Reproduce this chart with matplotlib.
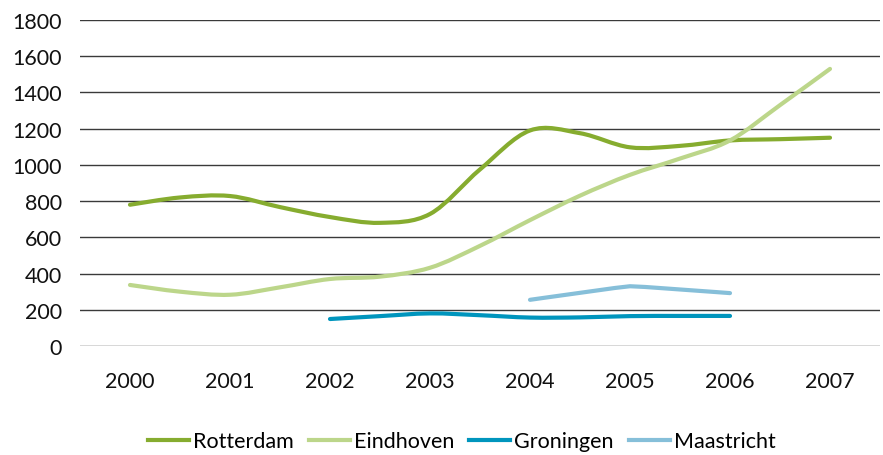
import numpy as np
import matplotlib
matplotlib.use("Agg")
from matplotlib import pyplot as plt
from matplotlib.path import Path
from matplotlib.patches import PathPatch
from matplotlib.lines import Line2D

plt.rcParams['font.family'] = ['Lato', 'DejaVu Sans']

# data, half-year steps (0 = 2000, 7 = 2007)
years = ['2000', '2001', '2002', '2003', '2004', '2005', '2006', '2007']

rotterdam_x = [0, 0.5, 1, 1.5, 2, 2.5, 3, 3.5, 4, 4.5, 5, 5.5, 6, 6.5, 7]
rotterdam = [780, 820, 828, 767, 712, 680, 729, 975, 1190, 1175, 1097, 1105, 1135, 1142, 1150]

eindhoven_x = [0, 0.5, 1, 1.5, 2, 2.5, 3, 3.5, 4, 4.5, 5, 5.5, 6, 6.5, 7]
eindhoven = [337, 300, 283, 324, 370, 383, 432, 553, 695, 830, 945, 1035, 1135, 1330, 1530]

groningen_x = [2, 2.5, 3, 3.5, 4, 4.5, 5, 5.5, 6]
groningen = [149, 165, 180, 170, 157, 158, 165, 166, 166]

maastricht_x = [4, 5, 6]
maastricht = [255, 330, 292]

names = ['Rotterdam', 'Eindhoven', 'Groningen', 'Maastricht']
colors = ['#86ac2f', '#bcd68a', '#0095bd', '#86bfd9']


def smooth_path(xs, ys, t=1/6):
    # bezier smoothing like the spreadsheet "smoothed line"
    pts = np.column_stack([xs, ys]).astype(float)
    verts = [pts[0]]
    codes = [Path.MOVETO]
    n = len(pts)
    for i in range(n - 1):
        p0 = pts[i - 1] if i > 0 else pts[i]
        p1 = pts[i]
        p2 = pts[i + 1]
        p3 = pts[i + 2] if i + 2 < n else pts[i + 1]
        c1 = p1 + (p2 - p0) * t
        c2 = p2 - (p3 - p1) * t
        verts += [c1, c2, p2]
        codes += [Path.CURVE4] * 3
    return Path(verts, codes)


fig = plt.figure(figsize=(8.83, 4.56), dpi=100)
ax = fig.add_axes([80/883, 109/456, 800/883, 326/456])

series = [(rotterdam_x, rotterdam, 1/6), (eindhoven_x, eindhoven, 1/6),
          (groningen_x, groningen, 1/6), (maastricht_x, maastricht, 0.03)]
for (xs, ys, t), c in zip(series, colors):
    patch = PathPatch(smooth_path(xs, ys, t), facecolor='none', edgecolor=c,
                      lw=3, capstyle='round', joinstyle='round', zorder=3)
    ax.add_patch(patch)

ax.set_xlim(-0.5, 7.5)
ax.set_ylim(0, 1800)
ax.set_yticks(np.arange(0, 1801, 200))
ax.set_xticks(range(len(years)))
ax.set_xticklabels(years)
ax.yaxis.grid(True, color='#3a3a3a', lw=1)
ax.set_axisbelow(True)
for s in ax.spines.values():
    s.set_visible(False)
ax.tick_params(length=0, labelsize=15.5, colors='#111111')
ax.tick_params(axis='x', pad=18)
ax.tick_params(axis='y', pad=13)

handles = [Line2D([], [], color=c, lw=3) for c in colors]
fig.legend(handles, names, loc='center', bbox_to_anchor=(0.523, 0.03),
           ncol=4, frameon=False, fontsize=15.5, handlelength=1.9,
           handletextpad=0.2, columnspacing=0.7)

fig.savefig('out.png', dpi=100)
